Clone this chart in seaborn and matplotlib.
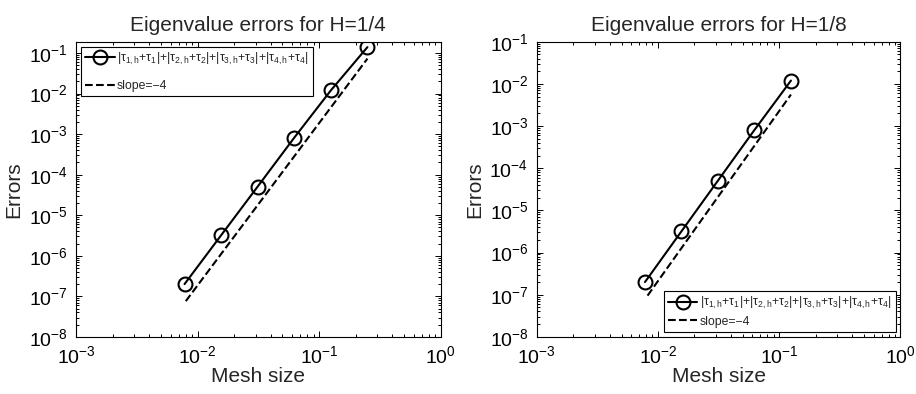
import numpy as np
import pandas as pd
import seaborn as sns
import matplotlib
matplotlib.use("Agg")
import matplotlib.pyplot as plt
from matplotlib.ticker import LogLocator, NullFormatter

### values
h_left = [0.0078125, 0.015625, 0.03125, 0.0625, 0.125, 0.25]
err_left = [2.0e-7, 3.2e-6, 5.1e-5, 8.2e-4, 1.2e-2, 1.4e-1]
slope_h_left = [0.008, 0.25]
slope_err_left = [7.6e-8, 7.3e-2]

h_right = [0.0078125, 0.015625, 0.03125, 0.0625, 0.125]
err_right = [2.0e-7, 3.2e-6, 5.1e-5, 8.1e-4, 1.2e-2]
slope_h_right = [0.0082, 0.125]
slope_err_right = [9.5e-8, 5.6e-3]

titles = ["Eigenvalue errors for H=1/4", "Eigenvalue errors for H=1/8"]
err_label = (r"$|\tau_{1,h}{+}\tau_1|{+}|\tau_{2,h}{+}\tau_2|"
             r"{+}|\tau_{3,h}{+}\tau_3|{+}|\tau_{4,h}{+}\tau_4|$")
slope_label = "slope=\u22124"

sns.set_style("ticks")
plt.rcParams['font.family'] = ['Liberation Sans', 'DejaVu Sans']
plt.rcParams['mathtext.fontset'] = 'custom'
plt.rcParams['mathtext.rm'] = 'Liberation Sans'
plt.rcParams['mathtext.it'] = 'Liberation Sans'
plt.rcParams['mathtext.default'] = 'regular'

fig = plt.figure(figsize=(9.16, 3.94), dpi=100)
ax1 = fig.add_axes([0.083, 0.145, 0.398, 0.749])
ax2 = fig.add_axes([0.586, 0.145, 0.397, 0.749])

panels = [
    (ax1, h_left, err_left, slope_h_left, slope_err_left, 0.19, "upper left", 1.05),
    (ax2, h_right, err_right, slope_h_right, slope_err_right, 0.1, "lower right", 0.35),
]

for i, (ax, h, err, sh, se, ytop, loc, lspace) in enumerate(panels):
    df = pd.DataFrame({"h": h, "err": err})
    df_s = pd.DataFrame({"h": sh, "err": se})
    sns.lineplot(data=df, x="h", y="err", ax=ax, color="black", lw=1.5,
                 marker="o", markersize=10, markerfacecolor="none",
                 markeredgecolor="black", markeredgewidth=1.5, label=err_label)
    sns.lineplot(data=df_s, x="h", y="err", ax=ax, color="black", lw=1.5,
                 linestyle="--", dashes=(3, 2.2), label=slope_label)
    ax.set_xscale("log")
    ax.set_yscale("log")
    ax.set_xlim(1e-3, 1)
    ax.set_ylim(1e-8, ytop)
    ax.xaxis.set_major_locator(LogLocator(base=10, numticks=10))
    ax.yaxis.set_major_locator(LogLocator(base=10, numticks=20))
    ax.xaxis.set_minor_locator(LogLocator(base=10, subs=np.arange(2, 10), numticks=20))
    ax.yaxis.set_minor_locator(LogLocator(base=10, subs=np.arange(2, 10), numticks=20))
    ax.xaxis.set_minor_formatter(NullFormatter())
    ax.yaxis.set_minor_formatter(NullFormatter())
    ax.tick_params(which="both", direction="in", top=True, right=True,
                   width=0.7, labelsize=14, colors="black")
    ax.tick_params(which="major", length=4, pad=6)
    ax.tick_params(which="minor", length=2)
    for sp in ax.spines.values():
        sp.set_visible(True)
        sp.set_linewidth(0.8)
        sp.set_color("black")
    ax.set_title(titles[i], fontsize=15, pad=8)
    ax.set_xlabel("Mesh size", fontsize=15, labelpad=0)
    ax.set_ylabel("Errors", fontsize=15, labelpad=4)
    leg = ax.legend(loc=loc, fontsize=8.8, frameon=True, fancybox=False,
                    edgecolor="black", framealpha=1, handlelength=2.4,
                    handletextpad=0.2, labelspacing=lspace, borderpad=0.35,
                    borderaxespad=0.4)
    leg.get_frame().set_linewidth(0.8)

fig.savefig("out.png", dpi=100)
